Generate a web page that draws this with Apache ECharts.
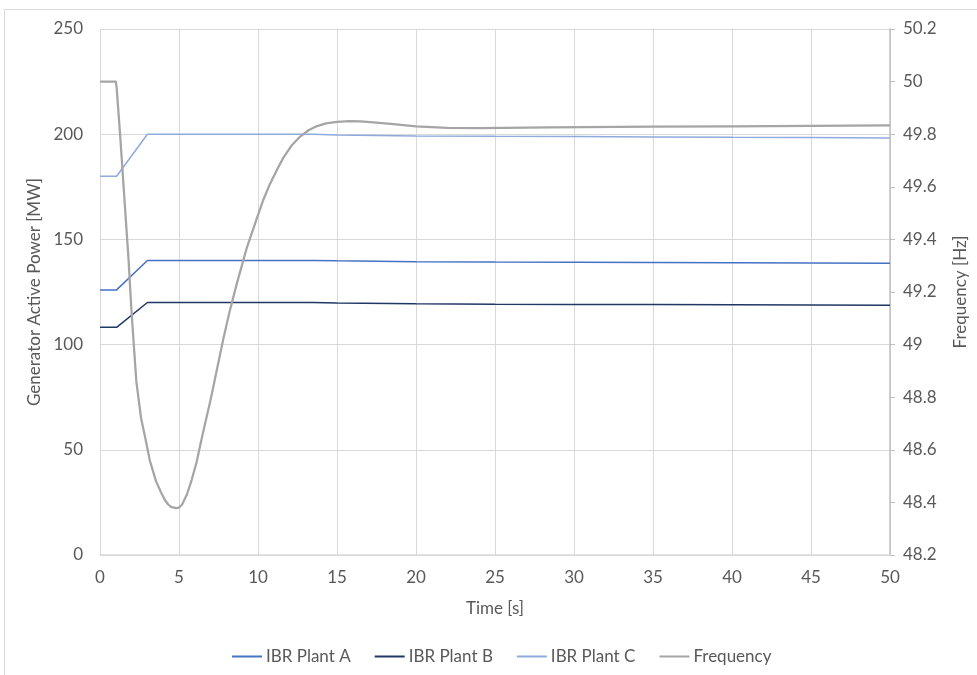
<!DOCTYPE html>
<html>
<head>
<meta charset="utf-8">
<title>Generator Active Power and Frequency</title>
<script src="https://cdn.jsdelivr.net/npm/echarts@6/dist/echarts.min.js"></script>
<style>
  html, body { margin: 0; padding: 0; background: #ffffff; }
  #chart { width: 977px; height: 675px; }
</style>
</head>
<body>
<div id="chart"></div>
<script>
// Time stamps [s] for the plant outputs
var plantTime = [0, 1.05, 3.0, 13.5, 15, 20, 25, 30, 35, 40, 45, 50];
// Active power [MW]
var plantA = [126.0, 126.0, 140.0, 140.0, 139.8, 139.4, 139.2, 139.1, 139.0, 138.9, 138.8, 138.7];
var plantB = [108.2, 108.2, 120.0, 120.0, 119.8, 119.4, 119.2, 119.1, 119.0, 118.9, 118.8, 118.7];
var plantC = [180.0, 180.0, 200.0, 200.0, 199.6, 199.2, 199.0, 198.9, 198.7, 198.5, 198.4, 198.2];

// Time stamps [s] for the system frequency
var freqTime = [0, 1.0, 1.05, 1.27, 1.55, 1.8, 2.0, 2.3, 2.6, 2.85, 3.15, 3.55, 3.85, 4.1, 4.3, 4.5, 4.8,
                5.0, 5.2, 5.5, 5.8, 6.1, 6.5, 7.0, 7.4, 7.8, 8.2, 8.65, 9.3, 9.9, 10.3, 10.75, 11.2, 11.6,
                12.1, 12.65, 13.2, 13.7, 14.3, 15.0, 15.8, 16.5, 17.1, 18.4, 20, 22, 24, 28.5, 35, 40, 45, 50];
// Frequency [Hz]
var freqHz = [50.0, 50.0, 49.98, 49.80, 49.55, 49.33, 49.12, 48.86, 48.72, 48.65, 48.56, 48.48, 48.44, 48.41, 48.393, 48.383, 48.378,
              48.38, 48.392, 48.43, 48.485, 48.55, 48.66, 48.79, 48.905, 49.02, 49.125, 49.23, 49.37, 49.475, 49.545, 49.61, 49.665, 49.71,
              49.755, 49.79, 49.815, 49.83, 49.841, 49.847, 49.85, 49.849, 49.846, 49.839, 49.83, 49.824, 49.823, 49.826, 49.829, 49.83, 49.832, 49.834];

var seriesNames = ['IBR Plant A', 'IBR Plant B', 'IBR Plant C', 'Frequency'];
var seriesColors = ['#4472C4', '#203864', '#8FAADC', '#A5A5A5'];

function pairs(xs, ys) {
  return xs.map(function (x, i) { return [x, ys[i]]; });
}

var FONT = 'Lato, "Open Sans", sans-serif';
var TEXT = '#595959';
var FS = 17;

var chart = echarts.init(document.getElementById('chart'), null, { renderer: 'canvas' });

chart.setOption({
  animation: false,
  backgroundColor: '#ffffff',
  textStyle: { fontFamily: FONT, color: TEXT },
  graphic: [{
    type: 'rect',
    shape: { x: 4.5, y: 9.5, width: 1000, height: 700 },
    style: { fill: 'none', stroke: '#D9D9D9', lineWidth: 1 },
    silent: true,
    z: -1
  }],
  grid: { left: 100, right: 87, top: 29, bottom: 120, containLabel: false, outerBoundsMode: 'none' },
  legend: {
    data: seriesNames,
    left: 227,
    top: 643,
    icon: 'rect',
    itemWidth: 30,
    itemHeight: 2,
    itemGap: 24,
    textStyle: { fontFamily: FONT, fontSize: FS, color: TEXT, padding: [0, 0, 0, -1] }
  },
  xAxis: {
    type: 'value',
    min: 0, max: 50, interval: 5,
    name: 'Time [s]',
    nameLocation: 'middle',
    nameGap: 45,
    nameTextStyle: { fontFamily: FONT, fontSize: FS, color: TEXT },
    axisLine: { show: true, lineStyle: { color: '#D9D9D9', width: 1.5 } },
    axisTick: { show: false },
    axisLabel: { fontFamily: FONT, fontSize: FS, color: TEXT, margin: 14 },
    splitLine: { show: true, lineStyle: { color: '#D9D9D9', width: 1 } }
  },
  yAxis: [{
    type: 'value',
    min: 0, max: 250, interval: 50,
    name: 'Generator Active Power [MW]',
    nameLocation: 'middle',
    nameGap: 47,
    nameTextStyle: { fontFamily: FONT, fontSize: FS, color: TEXT },
    axisLine: { show: false },
    axisTick: { show: false },
    axisLabel: { fontFamily: FONT, fontSize: FS, color: TEXT, margin: 17 },
    splitLine: { show: true, lineStyle: { color: '#D9D9D9', width: 1 } }
  }, {
    type: 'value',
    min: 48.2, max: 50.2, interval: 0.2,
    name: 'Frequency [Hz]',
    nameLocation: 'middle',
    nameGap: 62,
    nameTextStyle: { fontFamily: FONT, fontSize: FS, color: TEXT },
    position: 'right',
    axisLine: { show: true, lineStyle: { color: '#BFBFBF', width: 1.5 } },
    axisTick: { show: true, inside: false, length: 5, lineStyle: { color: '#BFBFBF' } },
    axisLabel: {
      fontFamily: FONT, fontSize: FS, color: TEXT, margin: 13,
      formatter: function (v) { return String(Math.round(v * 10) / 10); }
    },
    splitLine: { show: false }
  }],
  series: [{
    name: seriesNames[0], type: 'line', yAxisIndex: 0,
    data: pairs(plantTime, plantA), showSymbol: false,
    lineStyle: { color: seriesColors[0], width: 1.5 }, itemStyle: { color: seriesColors[0] }, z: 3
  }, {
    name: seriesNames[1], type: 'line', yAxisIndex: 0,
    data: pairs(plantTime, plantB), showSymbol: false,
    lineStyle: { color: seriesColors[1], width: 1.5 }, itemStyle: { color: seriesColors[1] }, z: 3
  }, {
    name: seriesNames[2], type: 'line', yAxisIndex: 0,
    data: pairs(plantTime, plantC), showSymbol: false,
    lineStyle: { color: seriesColors[2], width: 1.5 }, itemStyle: { color: seriesColors[2] }, z: 3
  }, {
    name: seriesNames[3], type: 'line', yAxisIndex: 1,
    data: pairs(freqTime, freqHz), showSymbol: false,
    lineStyle: { color: seriesColors[3], width: 2.25, join: 'round' }, itemStyle: { color: seriesColors[3] }, z: 4
  }]
});
</script>
</body>
</html>
